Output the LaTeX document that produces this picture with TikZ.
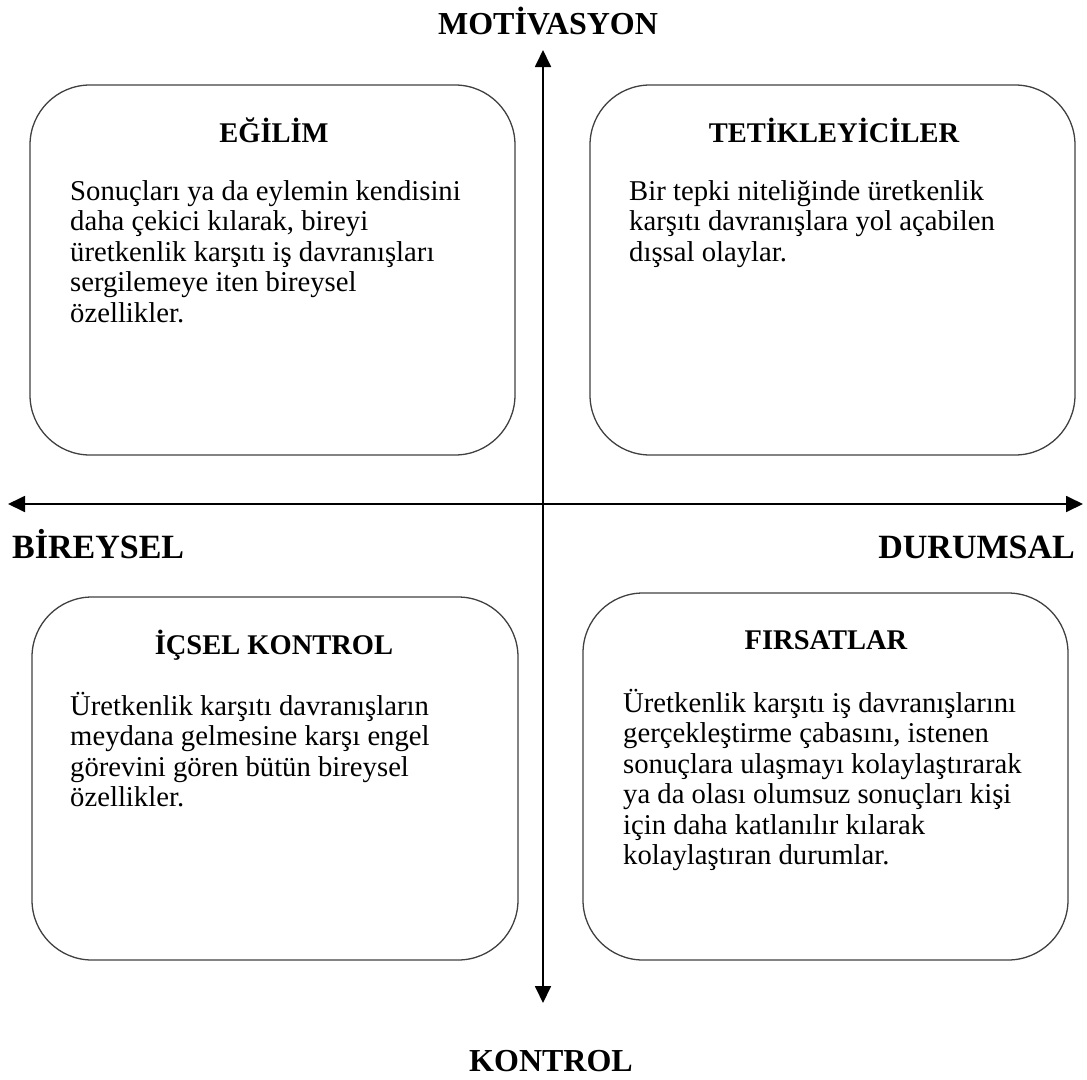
\documentclass[tikz,border=0pt]{standalone}
\usepackage{fontspec}
\setmainfont{Liberation Serif}
\usetikzlibrary{arrows.meta}
\begin{document}
\begin{tikzpicture}[x=1pt,y=-1pt,
  quad/.style={draw=black!75, line width=1.3pt, rounded corners=60pt, inner sep=0pt},
  quadtitle/.style={font=\fontsize{28.5}{30}\selectfont\bfseries, anchor=base, inner sep=0pt},
  quadbody/.style={font=\fontsize{28.7}{30.5}\selectfont, anchor=north west, inner sep=0pt, align=left},
  axislabel/.style={font=\fontsize{32}{34}\selectfont\bfseries, inner sep=0pt},
  sidelabel/.style={font=\fontsize{34}{36}\selectfont\bfseries, inner sep=0pt},
  axisline/.style={line width=1.8pt, {Triangle[length=17pt,width=16pt]}-{Triangle[length=17pt,width=16pt]}}
]
\useasboundingbox (0,0) rectangle (1087,1079);

% boxes
\node[quad, minimum width=485pt, minimum height=370pt] (egilim) at (272.5,270) {};
\node[quad, minimum width=485pt, minimum height=370pt] (tetik) at (832.5,270) {};
\node[quad, minimum width=486pt, minimum height=363pt] (icsel) at (275,778.5) {};
\node[quad, minimum width=485pt, minimum height=367pt] (firsat) at (825.5,776.5) {};

% titles
\node[quadtitle] (t1) at (274,142) {EĞİLİM};
\node[quadtitle] (t2) at (834,142) {TETİKLEYİCİLER};
\node[quadtitle] (t3) at (274,654) {İÇSEL KONTROL};
\node[quadtitle] (t4) at (826,649) {FIRSATLAR};

% bodies
\node[quadbody] (b1) at (70,175) {\rule{0pt}{25pt}Sonuçları ya da eylemin kendisini\\daha çekici kılarak, bireyi\\üretkenlik karşıtı iş davranışları\\sergilemeye iten bireysel\\özellikler.};
\node[quadbody] (b2) at (629,175) {\rule{0pt}{25pt}Bir tepki niteliğinde üretkenlik\\karşıtı davranışlara yol açabilen\\dışsal olaylar.};
\node[quadbody] (b3) at (70,690) {\rule{0pt}{25pt}Üretkenlik karşıtı davranışların\\meydana gelmesine karşı engel\\görevini gören bütün bireysel\\özellikler.};
\node[quadbody] (b4) at (623,687) {\rule{0pt}{25pt}Üretkenlik karşıtı iş davranışlarını\\gerçekleştirme çabasını, istenen\\sonuçlara ulaşmayı kolaylaştırarak\\ya da olası olumsuz sonuçları kişi\\için daha katlanılır kılarak\\kolaylaştıran durumlar.};

% axes
\coordinate (ytop) at (543,50);
\coordinate (ybot) at (543,1003);
\coordinate (xleft) at (8,504);
\coordinate (xright) at (1083,504);
\draw[axisline] (ybot) -- (ytop);
\draw[axisline] (xleft) -- (xright);

% axis labels
\node[axislabel, anchor=base] (motiv) at (548,34) {MOTİVASYON};
\node[sidelabel, anchor=base west] (birey) at (12,558) {BİREYSEL};
\node[sidelabel, anchor=base east] (durum) at (1075,558) {DURUMSAL};
\node[axislabel, anchor=base] (kontrol) at (551,1071) {KONTROL};
\end{tikzpicture}
\end{document}
